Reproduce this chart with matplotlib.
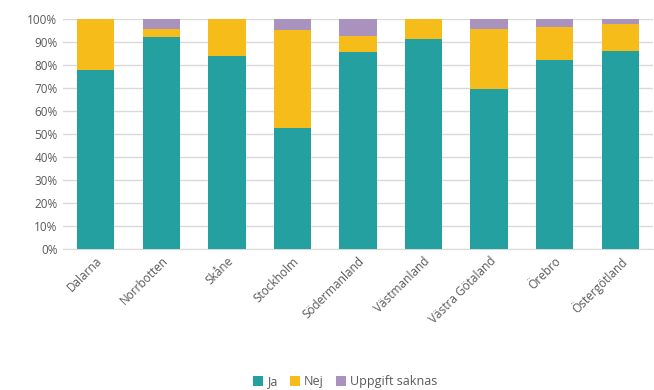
import matplotlib.pyplot as plt
import numpy as np

regions = ['Dalarna', 'Norrbotten', 'Skåne', 'Stockholm', 'Södermanland',
           'Västmanland', 'Västra Götaland', 'Örebro', 'Östergötland']
ja = [78, 92, 84, 52.6, 85.8, 91.3, 69.4, 82, 86.2]
nej = [22, 3.8, 16, 42.6, 6.9, 8.7, 26.4, 14.5, 11.6]
saknas = [0, 4.2, 0, 4.8, 7.3, 0, 4.2, 3.5, 2.2]

col_ja = '#25A0A0'
col_nej = '#F5BC1A'
col_saknas = '#A993BE'
txt = '#595959'

plt.rcParams['font.family'] = ['Open Sans', 'DejaVu Sans']

fig = plt.figure(figsize=(6.54, 3.9), dpi=100)
ax = fig.add_axes([63/654, 1 - 249/390, 590/654, 230/390])

x = np.arange(len(regions))
w = 0.57
ja_a = np.array(ja)
nej_a = np.array(nej)
ax.bar(x, ja, w, color=col_ja, label='Ja', zorder=3)
ax.bar(x, nej, w, bottom=ja_a, color=col_nej, label='Nej', zorder=3)
ax.bar(x, saknas, w, bottom=ja_a + nej_a, color=col_saknas, label='Uppgift saknas', zorder=3)

ax.set_xlim(-0.5, len(regions) - 0.5)
ax.set_ylim(0, 100)
ax.set_yticks(np.arange(0, 101, 10))
ax.set_yticklabels(['{}%'.format(v) for v in range(0, 101, 10)], color=txt, fontsize=8.5)
ax.yaxis.grid(True, color='#D9D9D9', linewidth=1, zorder=0)
for s in ['top', 'right', 'left']:
    ax.spines[s].set_visible(False)
ax.spines['bottom'].set_color('#D9D9D9')
ax.tick_params(axis='both', length=0, pad=4)

ax.set_xticks(x)
ax.set_xticklabels(regions, rotation=45, ha='right', rotation_mode='anchor',
                   color=txt, fontsize=8.5)

fig.legend(loc='lower center', bbox_to_anchor=(0.528, -0.025), ncol=3, frameon=False,
           fontsize=9, handlelength=0.8, handleheight=0.8, handletextpad=0.3,
           columnspacing=1.0, labelcolor=txt)

fig.savefig('out.png', dpi=100)
